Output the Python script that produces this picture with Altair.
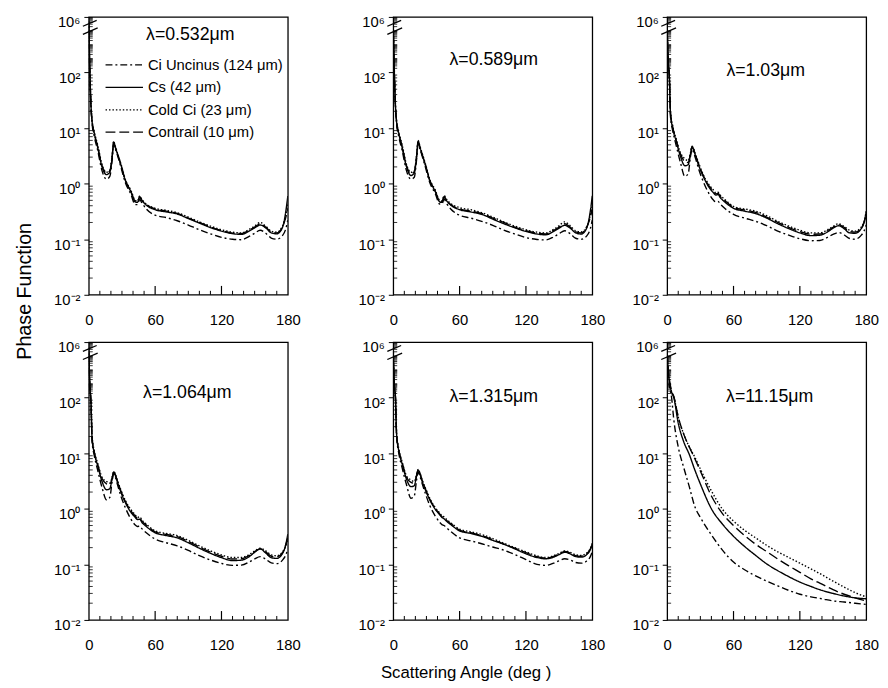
import altair as alt
import numpy as np
import pandas as pd

FONT = "Liberation Sans"

series_names = ["Ci Uncinus (124 μm)", "Cs (42 μm)", "Cold Ci (23 μm)", "Contrail (10 μm)"]
dash_styles = [[7, 3, 2, 3], [1, 0], [1.5, 2], [10, 4]]
panel_titles = ["λ=0.532μm", "λ=0.589μm", "λ=1.03μm", "λ=1.064μm", "λ=1.315μm", "λ=11.15μm"]

angles_vis = [0, 0.5, 1, 2, 3, 5, 8, 12, 16, 19, 21, 22.5, 24, 26, 29, 33, 38, 42, 44, 46,
              48, 52, 60, 70, 80, 90, 100, 110, 120, 130, 138, 145, 150, 155, 160, 165, 170, 175, 178, 180]
angles_ir = [0, 1, 2, 4, 6, 10, 15, 20, 25, 30, 40, 50, 60, 70, 80, 90, 100, 110, 120, 130, 140, 150, 160, 170, 180]

# lambda = 0.532 um
ci_0532 = [5e5, 5e3, 150, 25, 12, 7, 4, 1.7, 1.2, 1.35, 2.5, 5.0, 4.2, 3.2, 2.0, 1.05, 0.65, 0.42, 0.42, 0.52,
           0.45, 0.35, 0.27, 0.245, 0.215, 0.18, 0.148, 0.125, 0.108, 0.1, 0.098, 0.112, 0.128, 0.145, 0.128, 0.105, 0.1, 0.115, 0.15, 0.22]
cs_0532 = [3e5, 3e3, 100, 25, 13, 8, 4.5, 2.0, 1.45, 1.6, 2.8, 5.6, 4.5, 3.4, 2.2, 1.15, 0.72, 0.47, 0.46, 0.58,
           0.5, 0.41, 0.34, 0.31, 0.285, 0.235, 0.195, 0.162, 0.14, 0.126, 0.122, 0.14, 0.16, 0.18, 0.16, 0.13, 0.125, 0.16, 0.3, 0.6]
cold_0532 = [2e5, 2.5e3, 90, 26, 14, 8.5, 5, 2.2, 1.6, 1.75, 3.0, 5.8, 4.7, 3.5, 2.3, 1.2, 0.76, 0.5, 0.48, 0.6,
             0.52, 0.43, 0.36, 0.33, 0.3, 0.25, 0.205, 0.172, 0.148, 0.134, 0.13, 0.15, 0.172, 0.2, 0.172, 0.14, 0.134, 0.17, 0.26, 0.42]
con_0532 = [2e5, 2e3, 80, 24, 13, 8, 4.7, 2.1, 1.55, 1.7, 2.9, 5.4, 4.5, 3.4, 2.2, 1.15, 0.73, 0.48, 0.47, 0.57,
            0.5, 0.42, 0.35, 0.32, 0.29, 0.24, 0.2, 0.166, 0.143, 0.129, 0.126, 0.145, 0.165, 0.19, 0.165, 0.135, 0.13, 0.165, 0.24, 0.35]

# lambda = 0.589 um
ci_0589 = [5e5, 5e3, 150, 24, 12, 7, 4, 1.7, 1.2, 1.3, 2.6, 5.2, 4.3, 3.2, 2.0, 1.05, 0.66, 0.43, 0.43, 0.53,
           0.45, 0.35, 0.27, 0.24, 0.21, 0.178, 0.146, 0.124, 0.107, 0.099, 0.097, 0.11, 0.126, 0.142, 0.126, 0.104, 0.1, 0.115, 0.15, 0.22]
cs_0589 = [3e5, 3e3, 100, 25, 13, 8, 4.5, 2.0, 1.4, 1.55, 2.9, 5.8, 4.6, 3.4, 2.2, 1.15, 0.72, 0.47, 0.46, 0.58,
           0.5, 0.41, 0.34, 0.31, 0.28, 0.23, 0.19, 0.16, 0.138, 0.124, 0.12, 0.138, 0.158, 0.178, 0.158, 0.13, 0.124, 0.16, 0.3, 0.6]
cold_0589 = [2e5, 2.5e3, 90, 26, 14, 8.5, 5, 2.2, 1.6, 1.7, 3.1, 6.0, 4.8, 3.6, 2.3, 1.2, 0.77, 0.5, 0.49, 0.61,
             0.53, 0.44, 0.37, 0.34, 0.3, 0.25, 0.205, 0.172, 0.148, 0.134, 0.13, 0.15, 0.175, 0.205, 0.175, 0.142, 0.135, 0.17, 0.26, 0.42]
con_0589 = [2e5, 2e3, 80, 24, 13, 8, 4.7, 2.1, 1.5, 1.65, 3.0, 5.6, 4.6, 3.4, 2.2, 1.15, 0.73, 0.48, 0.47, 0.58,
            0.5, 0.42, 0.35, 0.32, 0.29, 0.24, 0.2, 0.165, 0.142, 0.128, 0.125, 0.144, 0.165, 0.19, 0.165, 0.135, 0.13, 0.165, 0.24, 0.35]

# lambda = 1.03 um
ci_103 = [4e5, 8e3, 800, 80, 16, 9, 5, 2.4, 1.35, 1.5, 3.0, 4.2, 3.6, 2.7, 1.7, 1.05, 0.65, 0.5, 0.47, 0.48,
          0.43, 0.36, 0.28, 0.24, 0.21, 0.175, 0.14, 0.118, 0.102, 0.094, 0.095, 0.108, 0.122, 0.132, 0.12, 0.103, 0.1, 0.115, 0.14, 0.18]
cs_103 = [2e5, 5e3, 600, 80, 18, 10, 6, 3.1, 2.1, 2.2, 3.3, 4.6, 4.0, 3.0, 2.0, 1.3, 0.85, 0.68, 0.62, 0.64,
          0.56, 0.47, 0.36, 0.32, 0.29, 0.24, 0.19, 0.155, 0.13, 0.116, 0.118, 0.135, 0.158, 0.175, 0.155, 0.13, 0.128, 0.15, 0.2, 0.32]
cold_103 = [1.5e5, 4e3, 500, 80, 20, 11, 6.5, 3.6, 2.8, 2.6, 3.5, 4.7, 4.2, 3.2, 2.2, 1.4, 0.95, 0.76, 0.68, 0.7,
            0.62, 0.52, 0.39, 0.35, 0.32, 0.265, 0.21, 0.172, 0.145, 0.13, 0.13, 0.148, 0.17, 0.19, 0.17, 0.145, 0.14, 0.16, 0.2, 0.26]
con_103 = [1.5e5, 4e3, 500, 80, 19, 10.5, 6.2, 3.4, 2.5, 2.4, 3.4, 4.6, 4.1, 3.1, 2.1, 1.35, 0.9, 0.72, 0.65, 0.67,
           0.59, 0.5, 0.375, 0.335, 0.305, 0.25, 0.2, 0.163, 0.137, 0.123, 0.124, 0.142, 0.164, 0.183, 0.163, 0.138, 0.134, 0.155, 0.2, 0.28]

# lambda = 1.064 um
ci_1064 = [4e5, 8e3, 800, 80, 16, 9, 5, 2.4, 1.45, 1.6, 3.0, 4.3, 3.7, 2.7, 1.7, 1.05, 0.66, 0.51, 0.48, 0.49,
           0.44, 0.37, 0.285, 0.245, 0.215, 0.178, 0.143, 0.12, 0.104, 0.096, 0.097, 0.11, 0.125, 0.138, 0.124, 0.106, 0.103, 0.118, 0.145, 0.19]
cs_1064 = [2e5, 5e3, 600, 80, 18, 10, 6, 3.1, 2.2, 2.3, 3.4, 4.6, 4.0, 3.0, 2.0, 1.3, 0.87, 0.7, 0.64, 0.65,
           0.57, 0.48, 0.37, 0.33, 0.3, 0.245, 0.195, 0.158, 0.132, 0.117, 0.119, 0.137, 0.165, 0.19, 0.16, 0.132, 0.128, 0.155, 0.22, 0.35]
cold_1064 = [1.5e5, 4e3, 500, 80, 20, 11, 6.6, 3.7, 3.1, 2.9, 3.6, 4.7, 4.2, 3.2, 2.2, 1.42, 0.97, 0.78, 0.7, 0.72,
             0.63, 0.53, 0.4, 0.36, 0.33, 0.27, 0.215, 0.175, 0.148, 0.133, 0.133, 0.15, 0.175, 0.195, 0.175, 0.148, 0.143, 0.165, 0.21, 0.28]
con_1064 = [1.5e5, 4e3, 500, 80, 19, 10.5, 6.3, 3.5, 2.8, 2.7, 3.5, 4.6, 4.1, 3.1, 2.1, 1.37, 0.92, 0.74, 0.67, 0.68,
            0.6, 0.51, 0.385, 0.345, 0.315, 0.258, 0.205, 0.166, 0.14, 0.125, 0.126, 0.144, 0.17, 0.19, 0.168, 0.14, 0.136, 0.16, 0.22, 0.3]

# lambda = 1.315 um
ci_1315 = [4e5, 1e4, 1000, 100, 20, 10, 5.5, 2.7, 1.55, 1.7, 3.2, 4.6, 3.9, 2.9, 1.9, 1.15, 0.74, 0.57, 0.52, 0.5,
           0.46, 0.39, 0.3, 0.265, 0.235, 0.205, 0.18, 0.15, 0.122, 0.1, 0.096, 0.105, 0.116, 0.126, 0.12, 0.108, 0.105, 0.115, 0.135, 0.17]
cs_1315 = [2e5, 6e3, 800, 100, 22, 11, 6.5, 3.4, 2.5, 2.6, 3.8, 5.0, 4.3, 3.2, 2.2, 1.45, 0.98, 0.78, 0.7, 0.66,
           0.6, 0.52, 0.4, 0.36, 0.32, 0.27, 0.23, 0.19, 0.155, 0.133, 0.126, 0.135, 0.15, 0.165, 0.155, 0.138, 0.135, 0.15, 0.18, 0.23]
cold_1315 = [1.5e5, 5e3, 600, 100, 24, 12, 7, 3.9, 3.3, 3.1, 4.0, 5.1, 4.5, 3.4, 2.4, 1.55, 1.05, 0.84, 0.75, 0.71,
             0.65, 0.56, 0.43, 0.385, 0.345, 0.29, 0.24, 0.2, 0.168, 0.142, 0.133, 0.143, 0.158, 0.175, 0.165, 0.148, 0.145, 0.16, 0.19, 0.24]
con_1315 = [1.5e5, 5e3, 600, 100, 23, 11.5, 6.8, 3.7, 3.0, 2.9, 3.9, 5.0, 4.4, 3.3, 2.3, 1.5, 1.01, 0.81, 0.72, 0.68,
            0.62, 0.54, 0.415, 0.37, 0.33, 0.278, 0.232, 0.195, 0.163, 0.138, 0.13, 0.139, 0.154, 0.17, 0.16, 0.143, 0.14, 0.155, 0.185, 0.235]

# lambda = 11.15 um
ci_1115 = [2e5, 5e3, 800, 100, 40, 13, 5.5, 2.5, 1.1, 0.7, 0.34, 0.18, 0.11, 0.08, 0.062, 0.05, 0.041, 0.034,
           0.029, 0.026, 0.024, 0.022, 0.021, 0.02, 0.019]
cs_1115 = [2e5, 8e3, 1500, 250, 100, 35, 16, 9.5, 5, 2.8, 1.0, 0.53, 0.32, 0.21, 0.145, 0.102, 0.077, 0.06,
           0.048, 0.04, 0.034, 0.03, 0.027, 0.025, 0.024]
cold_1115 = [1e5, 8e3, 1500, 250, 110, 45, 22, 13, 8.5, 5.2, 2.1, 0.98, 0.6, 0.41, 0.3, 0.22, 0.168, 0.133,
             0.105, 0.083, 0.065, 0.05, 0.039, 0.031, 0.026]
con_1115 = [2e5, 1e4, 2000, 300, 120, 45, 22, 13, 8, 4.8, 1.7, 0.82, 0.5, 0.33, 0.23, 0.17, 0.125, 0.094,
            0.072, 0.055, 0.044, 0.035, 0.029, 0.025, 0.022]

x_label_values = [0, 60, 120, 180]
x_minor_ticks = [10, 20, 30, 40, 50, 70, 80, 90, 100, 110, 130, 140, 150, 160, 170]
x_major_ticks = [60, 120]
y_tick_values = [-2, -1, 0, 1, 2, 3]
y_tick_labels = ["10⁻²", "10⁻¹", "10⁰", "10¹", "10²", "10⁶"]
y_minor_values = [k * 10.0 ** n for n in range(-2, 6) for k in range(2, 10)] + [1e3, 1e4, 1e5]

W, H = 202, 282
T_EXPR = "datum.v <= 100 ? log(datum.v) / LN10 : 2 + (log(datum.v) / LN10 - 2) / 4"

label_expr = " : ".join(f"datum.value == {v} ? '{l}'" for v, l in zip(y_tick_values, y_tick_labels)) + " : ''"

panels = [
    (angles_vis, [ci_0532, cs_0532, cold_0532, con_0532], (103, 18)),
    (angles_vis, [ci_0589, cs_0589, cold_0589, con_0589], (102, 44)),
    (angles_vis, [ci_103, cs_103, cold_103, con_103], (100, 55)),
    (angles_vis, [ci_1064, cs_1064, cold_1064, con_1064], (100, 52)),
    (angles_vis, [ci_1315, cs_1315, cold_1315, con_1315], (102, 56)),
    (angles_ir, [ci_1115, cs_1115, cold_1115, con_1115], (104, 56)),
]

dash_scale = alt.Scale(domain=series_names, range=dash_styles)


def make_legend():
    ldf = pd.DataFrame({"series": series_names})
    ly = alt.Y("series:N", scale=alt.Scale(type="point", domain=series_names, range=[48.7, 117], padding=0),
               axis=None)
    sym = alt.Chart(ldf).mark_rule(color="black", strokeWidth=1.3).encode(
        y=ly, x=alt.value(17), x2=alt.value(55),
        strokeDash=alt.StrokeDash("series:N", scale=dash_scale, legend=None))
    lab = alt.Chart(ldf).mark_text(font=FONT, fontSize=15, align="left", baseline="middle",
                                   color="black").encode(y=ly, x=alt.value(60), text="series:N")
    return alt.layer(sym, lab)


def make_panel(idx):
    angles, series_vals, (tx, ty) = panels[idx]
    rows = []
    for name, vals in zip(series_names, series_vals):
        for a, v in zip(angles, vals):
            rows.append({"angle": a, "v": v, "series": name})
    df = pd.DataFrame(rows)

    x_enc = alt.X("angle:Q", scale=alt.Scale(domain=[0, 180], nice=False),
                  axis=alt.Axis(values=x_label_values, ticks=False, tickSize=0, labelFlush=False,
                                labelPadding=18, labelFontSize=15, domain=False, grid=False,
                                title=None, labelOverlap=False))
    y_enc = alt.Y("t:Q", scale=alt.Scale(domain=[-2, 3], nice=False, zero=False),
                  axis=alt.Axis(values=y_tick_values, labelExpr=label_expr, tickSize=5,
                                labelPadding=4, labelFontSize=15, labelBaseline="top",
                                labelOffset=-2, domain=False, grid=False, title=None,
                                labelOverlap=False))

    lines = alt.Chart(df).transform_calculate(t=T_EXPR).mark_line(
        color="black", strokeWidth=1.4, clip=True, interpolate="monotone"
    ).encode(
        x=x_enc, y=y_enc,
        strokeDash=alt.StrokeDash("series:N", scale=dash_scale, legend=None),
    )
    xt_minor = alt.Chart(pd.DataFrame({"angle": x_minor_ticks})).mark_rule(
        color="black", strokeWidth=1).encode(x=x_enc, y=alt.value(H), y2=alt.value(H - 4))
    xt_major = alt.Chart(pd.DataFrame({"angle": x_major_ticks})).mark_rule(
        color="black", strokeWidth=1.2).encode(x=x_enc, y=alt.value(H), y2=alt.value(H - 9))
    yt_minor = alt.Chart(pd.DataFrame({"v": y_minor_values})).transform_calculate(t=T_EXPR).mark_rule(
        color="black", strokeWidth=0.8).encode(y=y_enc, x=alt.value(0), x2=alt.value(4))
    txt = alt.Chart(pd.DataFrame({"label": [panel_titles[idx]]})).mark_text(
        font=FONT, fontSize=18, align="center", baseline="middle", color="black"
    ).encode(x=alt.value(tx), y=alt.value(ty), text="label:N")
    one = pd.DataFrame({"k": [0]})
    brk1 = alt.Chart(one).mark_rule(color="black", strokeWidth=1.3).encode(
        x=alt.value(-6), x2=alt.value(8), y=alt.value(9.5), y2=alt.value(3.5))
    brk2 = alt.Chart(one).mark_rule(color="black", strokeWidth=1.3).encode(
        x=alt.value(-6), x2=alt.value(9), y=alt.value(17.7), y2=alt.value(11.2))
    main = alt.layer(xt_minor, xt_major, yt_minor, lines, txt, brk1, brk2)
    if idx == 0:
        return alt.layer(main, make_legend()).resolve_scale(y="independent").properties(width=W, height=H)
    return main.properties(width=W, height=H)


def spacer(w):
    return alt.Chart(pd.DataFrame({"a": [0]})).mark_point(opacity=0).encode(
        x=alt.X("a:Q", axis=None), y=alt.Y("a:Q", axis=None)
    ).properties(width=w, height=H, view=alt.ViewBackground(strokeOpacity=0))


p = [make_panel(i) for i in range(6)]
grid = alt.concat(
    p[0], spacer(87), p[1], spacer(56), p[2],
    p[3], spacer(87), p[4], spacer(56), p[5],
    columns=5, spacing={"row": 48, "column": 10}, bounds="flush",
    title=alt.TitleParams("Scattering Angle (deg )", orient="bottom", anchor="middle", fontSize=17,
                          font=FONT, fontWeight="normal", color="black", offset=12),
)

chart = alt.vconcat(
    grid,
    title=alt.TitleParams("Phase  Function", orient="left", anchor="middle", fontSize=20, font=FONT,
                          fontWeight="normal", color="black", offset=18, dx=57),
).configure(
    font=FONT, padding={"left": 7, "top": 1, "right": 0, "bottom": 0}
).configure_view(stroke="black", strokeWidth=1.3).configure_axis(
    labelColor="black", tickColor="black", domainColor="black", labelFont=FONT
)

chart.save("out.html", embed_options={"renderer": "svg", "actions": False})
